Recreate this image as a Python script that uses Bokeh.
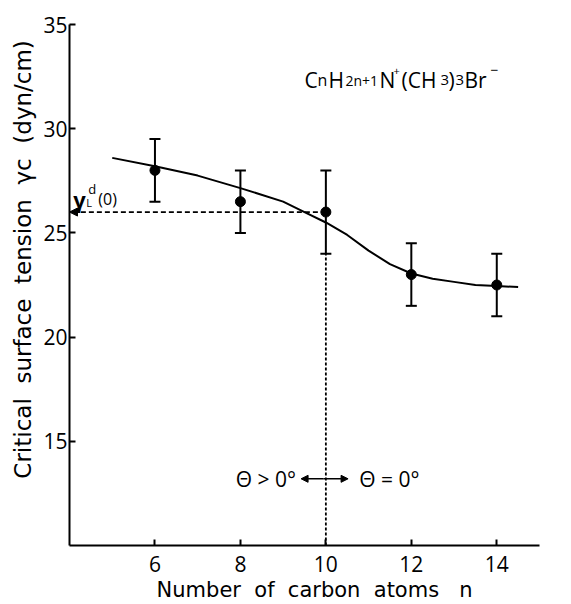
from bokeh.plotting import figure
from bokeh.models import (Range1d, FixedTicker, ColumnDataSource, Whisker, TeeHead,
                          Arrow, NormalHead, Label)
from bokeh.embed import file_html
from bokeh.resources import INLINE

# ---- data ----
n_atoms = [6, 8, 10, 12, 14]
gamma_c = [28.0, 26.5, 26.0, 23.0, 22.5]
err_low = [26.5, 25.0, 24.0, 21.5, 21.0]
err_high = [29.5, 28.0, 28.0, 24.5, 24.0]

curve_x = [5, 6, 7, 8, 9, 9.5, 10, 10.5, 11, 11.5, 12, 12.5, 13, 13.5, 14, 14.5]
curve_y = [28.6, 28.2, 27.75, 27.15, 26.5, 26.0, 25.5, 24.9, 24.15, 23.5, 23.05, 22.8, 22.65, 22.5, 22.45, 22.4]

gamma_ld0 = 26.0
n_transition = 10

x_ticks = [6, 8, 10, 12, 14]
y_ticks = [15, 20, 25, 30, 35]

FONT = "Open Sans"
TFONT = "DejaVu Sans"
NB = "\u00a0"

p = figure(width=571, height=604, output_backend="svg", toolbar_location=None,
           x_range=Range1d(4, 15), y_range=Range1d(10, 35),
           min_border_left=69, min_border_right=32, min_border_top=24, min_border_bottom=56)
p.outline_line_color = None
p.grid.visible = False
p.background_fill_color = "white"
p.border_fill_color = "white"

for ax in (p.xaxis[0], p.yaxis[0]):
    ax.axis_line_width = 2
    ax.axis_line_color = "black"
    ax.major_tick_in = 6
    ax.major_tick_out = 0
    ax.major_tick_line_width = 2
    ax.major_tick_line_color = "black"
    ax.minor_tick_line_color = None
    ax.major_label_text_font = FONT
    ax.major_label_text_font_size = "21px"
    ax.major_label_text_color = "black"
    ax.axis_label_text_font = TFONT
    ax.axis_label_text_font_style = "normal"
    ax.axis_label_text_color = "black"

p.xaxis.ticker = FixedTicker(ticks=x_ticks)
p.yaxis.ticker = FixedTicker(ticks=y_ticks)
p.xaxis.major_label_standoff = 10
p.yaxis.major_label_standoff = 2

p.xaxis.axis_label = NB * 3 + "Number" + NB + " of" + NB + " carbon" + NB + " atoms" + NB + NB + " n"
p.xaxis.axis_label_text_font_size = "21px"
p.xaxis.axis_label_standoff = 3

p.yaxis.axis_label = NB * 7 + ("Critical" + NB + " surface" + NB + " tension" + NB + " \u03b3c" + NB +
                               " (dyn/cm)")
p.yaxis.axis_label_text_font_size = "23px"
p.yaxis.axis_label_standoff = 4

# smooth curve
p.line(curve_x, curve_y, line_color="black", line_width=2)

# dashed guides
p.segment(x0=[n_transition], y0=[10], x1=[n_transition], y1=[err_low[2]],
          line_color="black", line_width=1.8, line_dash="3 2")
p.add_layout(Arrow(x_start=n_transition, y_start=gamma_ld0, x_end=4, y_end=gamma_ld0,
                   line_color="black", line_width=1.8, line_dash="5 3",
                   end=NormalHead(size=8, fill_color="black", line_color="black")))

# error bars and points
src = ColumnDataSource(dict(x=n_atoms, y=gamma_c, lo=err_low, hi=err_high))
p.add_layout(Whisker(source=src, base="x", upper="hi", lower="lo", line_color="black",
                     line_width=2,
                     upper_head=TeeHead(size=11, line_color="black", line_width=2),
                     lower_head=TeeHead(size=11, line_color="black", line_width=2)))
p.scatter("x", "y", source=src, size=10, color="black")

# helper for composed labels (offsets in pixels from an anchor)
def compose(x, y, parts, font=FONT):
    for text, dx, dy, size, style in parts:
        p.add_layout(Label(x=x, y=y, x_offset=dx, y_offset=dy, text=text, text_font=font,
                           text_font_size=f"{size}px", text_font_style=style,
                           text_baseline="alphabetic", text_align="left", text_color="black"))

# formula C_nH_{2n+1}N+(CH3)3Br-
compose(9.5, 32.33, [
    ("C", 0, 0, 21, "normal"), ("n", 13, 0, 16, "normal"), ("H", 24, 0, 21, "normal"),
    ("2n+1", 41, 0, 14, "normal"), ("N", 75, 0, 21, "normal"), ("+", 89, 9, 11, "normal"),
    ("(CH", 97, 0, 21, "normal"), ("3", 136, 0, 15, "normal"), (")", 144, 0, 21, "normal"),
    ("3", 151, 0, 15, "normal"), ("Br", 160, 0, 21, "normal"), ("\u2212", 186, 10, 14, "normal"),
])

# gamma_L^d(0)
compose(4.09, 26.62, [
    ("\u03b3", 0, 0, 22, "bold"), ("L", 13, -3, 11, "normal"), ("d", 15, 10, 13, "normal"),
    ("(0)", 25, 0, 16, "normal"),
])

# theta annotation
p.add_layout(Label(x=9.3, y=13.2, text="\u0398 > 0\u00b0", text_font=FONT, text_font_size="21px",
                   text_align="right", text_baseline="middle", text_color="black"))
p.add_layout(Label(x=10.78, y=13.2, text="\u0398 = 0\u00b0", text_font=FONT, text_font_size="21px",
                   text_align="left", text_baseline="middle", text_color="black"))
for xs, xe in ((9.95, 9.42), (9.95, 10.52)):
    p.add_layout(Arrow(x_start=xs, y_start=13.2, x_end=xe, y_end=13.2, line_color="black",
                       line_width=1.5, end=NormalHead(size=7, fill_color="black", line_color="black")))

open("out.html", "w").write(file_html(p, INLINE))
